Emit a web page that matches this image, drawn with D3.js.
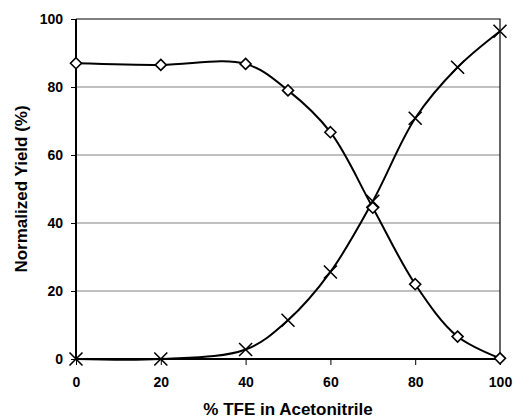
<!DOCTYPE html>
<html>
<head>
<meta charset="utf-8">
<script src="https://cdn.jsdelivr.net/npm/d3@7"></script>
<style>
  body { margin: 0; background: #fff; }
  text { font-family: "Liberation Sans", Arial, sans-serif; font-weight: bold; }
</style>
</head>
<body>
<div id="chart"></div>
<script>
var w = 513;
var h = 420;

// % TFE values and the two yield series
var tfe = [0, 20, 40, 50, 60, 70, 80, 90, 100];
var diamondYield = [87, 86.5, 86.8, 79, 66.7, 44.5, 22, 6.6, 0.2];
var crossYield = [0, 0, 2.8, 11.4, 25.6, 46.4, 70.8, 85.8, 96.4];
var xTicks = [0, 20, 40, 60, 80, 100];
var yTicks = [0, 20, 40, 60, 80, 100];

var margin = { top: 19, right: 13, bottom: 61, left: 76 };
var pw = w - margin.left - margin.right;
var ph = h - margin.top - margin.bottom;

var svg = d3.select("#chart")
  .append("svg")
  .attr("width", w)
  .attr("height", h);

var g = svg.append("g")
  .attr("transform", "translate(" + margin.left + "," + margin.top + ")");

var x = d3.scaleLinear().domain([0, 100]).range([0, pw]);
var y = d3.scaleLinear().domain([0, 100]).range([ph, 0]);

// gridlines
g.selectAll(".grid")
  .data(yTicks.filter(function(d) { return d > 0 && d < 100; }))
  .enter()
  .append("line")
  .attr("x1", 0)
  .attr("x2", pw)
  .attr("y1", function(d) { return y(d); })
  .attr("y2", function(d) { return y(d); })
  .attr("stroke", "#808080")
  .attr("stroke-width", 1);

// plot border (top and right)
g.append("path")
  .attr("d", "M0," + y(100) + "H" + pw + "V" + ph)
  .attr("fill", "none")
  .attr("stroke", "#000")
  .attr("stroke-width", 1.2);

// axes
var xAxis = g.append("g")
  .attr("transform", "translate(0," + ph + ")")
  .call(d3.axisBottom(x).tickValues(xTicks).tickSize(6).tickPadding(12));

var yAxis = g.append("g")
  .call(d3.axisLeft(y).tickValues(yTicks).tickSize(5).tickPadding(8));

[xAxis, yAxis].forEach(function(a) {
  a.select(".domain").attr("stroke", "#000").attr("stroke-width", 2);
  a.selectAll(".tick line").attr("stroke", "#000").attr("stroke-width", 1);
  a.selectAll(".tick text")
    .attr("fill", "#000")
    .style("font-size", "14px")
    .style("font-family", "'Liberation Sans', Arial, sans-serif")
    .style("font-weight", "bold");
});
xAxis.select(".domain").attr("d", "M0,0H" + pw);
yAxis.select(".domain").attr("d", "M0," + ph + "V0");

// smoothed lines
var line = d3.line()
  .x(function(d) { return x(d[0]); })
  .y(function(d) { return y(d[1]); })
  .curve(d3.curveCatmullRom.alpha(0.5));

var diamondPts = tfe.map(function(t, i) { return [t, diamondYield[i]]; });
var crossPts = tfe.map(function(t, i) { return [t, crossYield[i]]; });

g.append("path")
  .datum(diamondPts)
  .attr("d", line)
  .attr("fill", "none")
  .attr("stroke", "#000")
  .attr("stroke-width", 2);

g.append("path")
  .datum(crossPts)
  .attr("d", line)
  .attr("fill", "none")
  .attr("stroke", "#000")
  .attr("stroke-width", 2);

// diamond markers
g.selectAll(".diamond")
  .data(diamondPts)
  .enter()
  .append("path")
  .attr("class", "diamond")
  .attr("d", "M0,-5.5L5.5,0L0,5.5L-5.5,0Z")
  .attr("transform", function(d) { return "translate(" + x(d[0]) + "," + y(d[1]) + ")"; })
  .attr("fill", "#fff")
  .attr("stroke", "#000")
  .attr("stroke-width", 1.6);

// cross markers
g.selectAll(".cross")
  .data(crossPts)
  .enter()
  .append("path")
  .attr("class", "cross")
  .attr("d", "M-6.5,-6.5L6.5,6.5M-6.5,6.5L6.5,-6.5")
  .attr("transform", function(d) { return "translate(" + x(d[0]) + "," + y(d[1]) + ")"; })
  .attr("fill", "none")
  .attr("stroke", "#000")
  .attr("stroke-width", 1.6);

// axis titles
svg.append("text")
  .attr("x", margin.left + pw / 2)
  .attr("y", 415)
  .attr("text-anchor", "middle")
  .style("font-size", "17px")
  .text("% TFE in Acetonitrile");

svg.append("text")
  .attr("transform", "translate(27," + (margin.top + ph / 2) + ") rotate(-90)")
  .attr("text-anchor", "middle")
  .style("font-size", "17px")
  .text("Normalized Yield (%)");
</script>
</body>
</html>
